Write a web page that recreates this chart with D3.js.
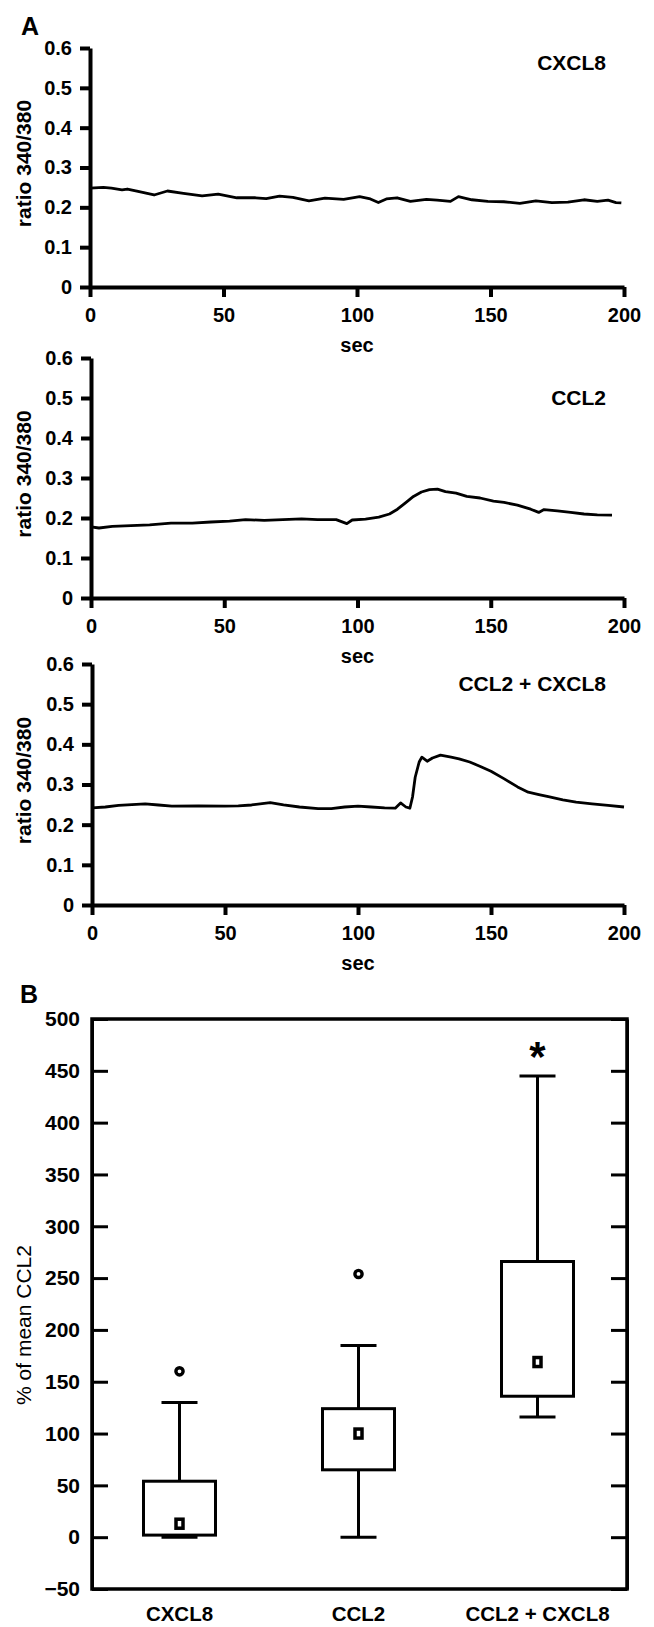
<!DOCTYPE html>
<html>
<head>
<meta charset="utf-8">
<script src="https://cdn.jsdelivr.net/npm/d3@7"></script>
<style>
  body { margin: 0; background: #fff; }
  svg { display: block; background: #fff; }
</style>
</head>
<body>
<svg id="chart"></svg>
<script>
// panel A traces (sec, ratio 340/380)
const secCXCL8 = [0, 5, 8, 12, 14, 18, 24, 29, 35, 42, 48, 55, 62, 66, 71, 76, 82, 88, 95, 101, 105, 108, 111, 115, 120, 126, 130, 135, 138, 143, 149, 155, 161, 167, 173, 179, 185, 190, 194, 197, 199];
const ratioCXCL8 = [0.248, 0.250, 0.248, 0.244, 0.246, 0.240, 0.231, 0.241, 0.235, 0.229, 0.233, 0.224, 0.224, 0.222, 0.228, 0.225, 0.216, 0.223, 0.220, 0.227, 0.221, 0.212, 0.221, 0.224, 0.215, 0.220, 0.218, 0.215, 0.227, 0.219, 0.215, 0.214, 0.210, 0.216, 0.212, 0.213, 0.219, 0.215, 0.218, 0.212, 0.211];

const secCCL2 = [0, 3, 8, 15, 22, 30, 38, 45, 52, 58, 65, 72, 79, 85, 92, 96, 98, 103, 108, 112, 115, 118, 121, 124, 127, 130, 133, 137, 141, 146, 151, 155, 160, 165, 168, 170, 175, 180, 185, 190, 195.5];
const ratioCCL2 = [0.178, 0.175, 0.179, 0.181, 0.183, 0.187, 0.187, 0.190, 0.192, 0.196, 0.194, 0.196, 0.198, 0.196, 0.196, 0.186, 0.195, 0.197, 0.202, 0.210, 0.222, 0.238, 0.254, 0.265, 0.271, 0.272, 0.266, 0.262, 0.254, 0.250, 0.242, 0.239, 0.232, 0.222, 0.214, 0.221, 0.218, 0.214, 0.210, 0.208, 0.207];

const secBoth = [0, 5, 10, 15, 20, 25, 30, 40, 50, 55, 60, 67, 72, 78, 85, 90, 95, 100, 105, 110, 114, 116, 118, 119.5, 120.5, 121.5, 123, 124, 126, 128, 131, 135, 138, 142, 146, 150, 155, 160, 164, 168, 172, 177, 182, 188, 194, 200];
const ratioBoth = [0.242, 0.244, 0.248, 0.250, 0.252, 0.249, 0.246, 0.247, 0.246, 0.247, 0.249, 0.255, 0.249, 0.244, 0.240, 0.240, 0.244, 0.246, 0.244, 0.242, 0.241, 0.254, 0.244, 0.241, 0.269, 0.318, 0.356, 0.368, 0.358, 0.366, 0.373, 0.368, 0.364, 0.356, 0.345, 0.333, 0.314, 0.294, 0.281, 0.275, 0.269, 0.262, 0.256, 0.252, 0.248, 0.244];

const ratioTicks = [0, 0.1, 0.2, 0.3, 0.4, 0.5, 0.6];
const secTicks = [0, 50, 100, 150, 200];

// panel B box plot (% of mean CCL2)
const boxCats = ["CXCL8", "CCL2", "CCL2 + CXCL8"];
const whiskerLow = [0, 0, 116];
const q1 = [2, 65, 136];
const q3 = [54, 124, 266];
const whiskerHigh = [130, 185, 445];
const means = [13, 100, 169];
const outliers = [160, 254, null];
const significant = [false, false, true];
const percentTicks = [-50, 0, 50, 100, 150, 200, 250, 300, 350, 400, 450, 500];

const width = 654;
const height = 1627;
const font = "'Liberation Sans', Arial, Helvetica, sans-serif";

const svg = d3.select("#chart").attr("width", width).attr("height", height);

function styleAxis(g, w, size) {
  g.attr("font-family", font);
  g.select(".domain").attr("stroke", "#000").attr("stroke-width", w);
  g.selectAll(".tick line").attr("stroke", "#000").attr("stroke-width", w);
  g.selectAll(".tick text")
    .attr("fill", "#000")
    .attr("font-size", size)
    .attr("font-weight", "bold");
}

const panels = [
  { name: "CXCL8", sec: secCXCL8, ratio: ratioCXCL8, top: 48, bottom: 287, left: 90, labelDy: 22 },
  { name: "CCL2", sec: secCCL2, ratio: ratioCCL2, top: 358, bottom: 598, left: 91, labelDy: 47 },
  { name: "CCL2 + CXCL8", sec: secBoth, ratio: ratioBoth, top: 664, bottom: 905, left: 92, labelDy: 27 },
];
const right = 624;

panels.forEach(p => {
  const x = d3.scaleLinear().domain([0, 200]).range([p.left, right]);
  const y = d3.scaleLinear().domain([0, 0.6]).range([p.bottom, p.top]);

  const gy = svg.append("g").call(
    d3.axisLeft(y)
      .tickValues(ratioTicks)
      .tickFormat(d => (d === 0 ? "0" : d3.format(".1f")(d)))
      .tickSizeInner(10)
      .tickSizeOuter(0)
      .tickPadding(8)
  ).attr("transform", "translate(" + p.left + ",0)");
  styleAxis(gy, 4, 20);

  const gx = svg.append("g").call(
    d3.axisBottom(x)
      .tickValues(secTicks)
      .tickSizeInner(10)
      .tickSizeOuter(0)
      .tickPadding(11)
  ).attr("transform", "translate(0," + p.bottom + ")");
  styleAxis(gx, 4, 20);

  const line = d3.line()
    .x((d, i) => x(p.sec[i]))
    .y(d => y(d));

  svg.append("path")
    .datum(p.ratio)
    .attr("d", line)
    .attr("fill", "none")
    .attr("stroke", "#000")
    .attr("stroke-width", 2.8)
    .attr("stroke-linejoin", "round");

  svg.append("text")
    .attr("x", 606)
    .attr("y", y(0.6) + p.labelDy)
    .attr("text-anchor", "end")
    .attr("font-family", font)
    .attr("font-weight", "bold")
    .attr("font-size", 21)
    .text(p.name);

  svg.append("text")
    .attr("x", (p.left + right) / 2)
    .attr("y", p.bottom + 65)
    .attr("text-anchor", "middle")
    .attr("font-family", font)
    .attr("font-weight", "bold")
    .attr("font-size", 20)
    .text("sec");

  svg.append("text")
    .attr("transform", "translate(31," + ((p.top + p.bottom) / 2 - 4) + ") rotate(-90)")
    .attr("text-anchor", "middle")
    .attr("font-family", font)
    .attr("font-weight", "bold")
    .attr("font-size", 21)
    .text("ratio 340/380");
});

svg.append("text")
  .attr("x", 21).attr("y", 35)
  .attr("font-family", font).attr("font-weight", "bold").attr("font-size", 25)
  .text("A");

// panel B
const bLeft = 92, bRight = 627, bTop = 1019, bBottom = 1589;
const yB = d3.scaleLinear().domain([-50, 500]).range([bBottom, bTop]);
const xB = d3.scaleBand().domain(boxCats).range([90, 627]);

svg.append("text")
  .attr("x", 20).attr("y", 1003)
  .attr("font-family", font).attr("font-weight", "bold").attr("font-size", 25)
  .text("B");

const gyB = svg.append("g").call(
  d3.axisLeft(yB).tickValues(percentTicks).tickSizeInner(-16).tickSizeOuter(0).tickPadding(12)
).attr("transform", "translate(" + bLeft + ",0)");
styleAxis(gyB, 3, 21);

const gyR = svg.append("g").call(
  d3.axisRight(yB).tickValues(percentTicks).tickSizeInner(-16).tickSizeOuter(0).tickFormat("")
).attr("transform", "translate(" + bRight + ",0)");
styleAxis(gyR, 3, 21);

const gxB = svg.append("g").call(
  d3.axisBottom(xB).tickSize(0).tickPadding(17)
).attr("transform", "translate(0," + bBottom + ")");
styleAxis(gxB, 3, 20.5);
gxB.select(".domain").remove();

svg.append("rect")
  .attr("x", bLeft).attr("y", bTop)
  .attr("width", bRight - bLeft).attr("height", bBottom - bTop)
  .attr("fill", "none").attr("stroke", "#000").attr("stroke-width", 3.5);

const boxW = 72, capW = 36;
const cx = c => xB(c) + xB.bandwidth() / 2;

boxCats.forEach((c, i) => {
  const g = svg.append("g").attr("stroke", "#000").attr("stroke-width", 3);
  g.append("line").attr("x1", cx(c)).attr("x2", cx(c)).attr("y1", yB(q3[i])).attr("y2", yB(whiskerHigh[i]));
  g.append("line").attr("x1", cx(c)).attr("x2", cx(c)).attr("y1", yB(q1[i])).attr("y2", yB(whiskerLow[i]));
  g.append("line").attr("x1", cx(c) - capW / 2).attr("x2", cx(c) + capW / 2)
    .attr("y1", yB(whiskerHigh[i])).attr("y2", yB(whiskerHigh[i]));
  g.append("line").attr("x1", cx(c) - capW / 2).attr("x2", cx(c) + capW / 2)
    .attr("y1", yB(whiskerLow[i])).attr("y2", yB(whiskerLow[i]));
  g.append("rect")
    .attr("x", cx(c) - boxW / 2).attr("y", yB(q3[i]))
    .attr("width", boxW).attr("height", yB(q1[i]) - yB(q3[i]))
    .attr("fill", "#fff");
  g.append("rect")
    .attr("x", cx(c) - 3.5).attr("y", yB(means[i]) - 4.5)
    .attr("width", 7).attr("height", 9)
    .attr("stroke-width", 3.5)
    .attr("fill", "#fff");
  if (outliers[i] !== null) {
    g.append("circle").attr("cx", cx(c)).attr("cy", yB(outliers[i]))
      .attr("r", 3.6).attr("stroke-width", 3.4).attr("fill", "#fff");
  }
  if (significant[i]) {
    svg.append("text")
      .attr("x", cx(c)).attr("y", yB(whiskerHigh[i]) - 5)
      .attr("text-anchor", "middle")
      .attr("font-family", font).attr("font-weight", "bold").attr("font-size", 42)
      .text("*");
  }
});

svg.append("text")
  .attr("transform", "translate(31,1325) rotate(-90)")
  .attr("text-anchor", "middle")
  .attr("font-family", font)
  .attr("font-size", 21)
  .text("% of mean CCL2");
</script>
</body>
</html>
